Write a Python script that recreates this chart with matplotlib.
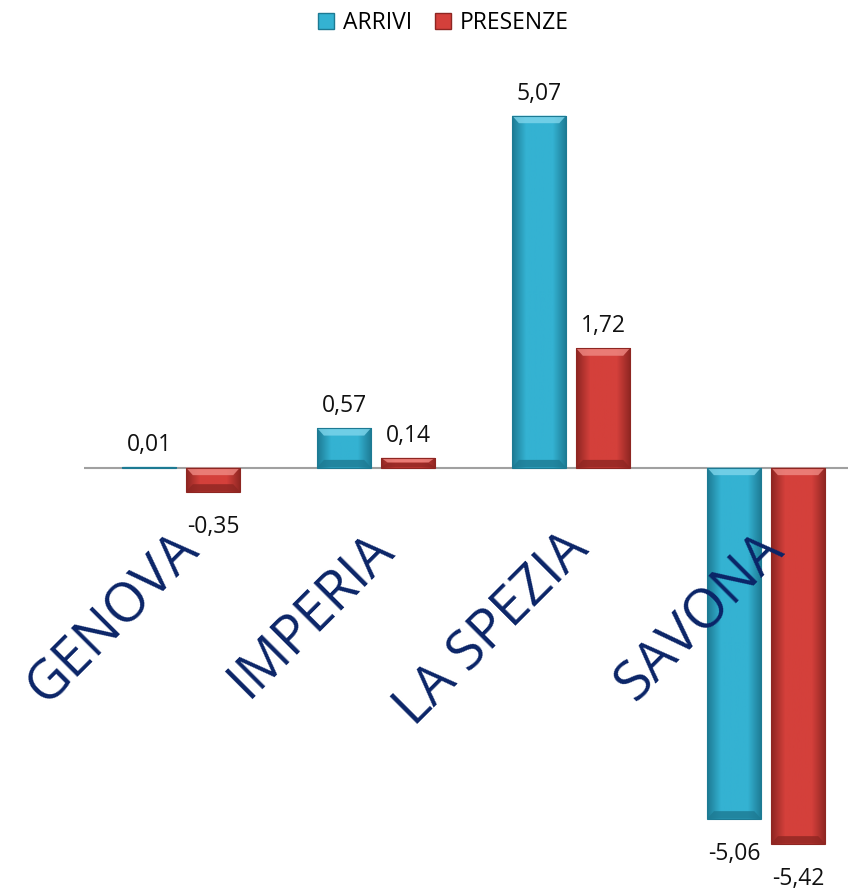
import matplotlib.pyplot as plt
from matplotlib.colors import LinearSegmentedColormap
from matplotlib.patches import Polygon, Patch
import numpy as np

province = ['GENOVA', 'IMPERIA', 'LA SPEZIA', 'SAVONA']
arrivi = [0.01, 0.57, 5.07, -5.06]
presenze = [-0.35, 0.14, 1.72, -5.42]
serie = ['ARRIVI', 'PRESENZE']

# colori: chiaro, medio, scuro
col_arrivi = ('#7fd6ec', '#34b2d2', '#1d7a93')
col_presenze = ('#f08a84', '#d4403b', '#8e2622')

plt.rcParams['font.family'] = ['Open Sans', 'DejaVu Sans']

fig = plt.figure(figsize=(8.48, 8.90), dpi=100)
ax = fig.add_axes([0.0985, 0.0067, 0.9015, 0.936])
ax.set_xlim(-0.5, 3.42)
ax.set_ylim(-6, 6)
ax.axis('off')

x = np.arange(len(province))
larg = 0.277
off = 0.164

ax.axhline(0, color='#a0a0a0', lw=1.5, zorder=1)


def bevel(ax, rects, colori):
    chiaro, medio, scuro = colori
    cmap = LinearSegmentedColormap.from_list('b', [scuro, medio, medio, medio, scuro])
    grad = np.linspace(0, 1, 64).reshape(1, -1)
    for r in rects:
        x0, y0 = r.get_x(), r.get_y()
        w, h = r.get_width(), r.get_height()
        y1 = y0 + h
        lo, hi = min(y0, y1), max(y0, y1)
        im = ax.imshow(grad, cmap=cmap, aspect='auto', extent=(x0, x0 + w, lo, hi), zorder=2)
        im.set_clip_path(r)
        bx = 0.035
        by = min(0.11, (hi - lo) / 2)
        top = Polygon([(x0, hi), (x0 + w, hi), (x0 + w - bx, hi - by), (x0 + bx, hi - by)],
                      closed=True, fc=chiaro, ec='none', alpha=0.8, zorder=3)
        bot = Polygon([(x0, lo), (x0 + w, lo), (x0 + w - bx, lo + by), (x0 + bx, lo + by)],
                      closed=True, fc=scuro, ec='none', alpha=0.8, zorder=3)
        ax.add_patch(top)
        ax.add_patch(bot)
        r.set_edgecolor(scuro)
        r.set_linewidth(0.8)
        r.set_zorder(4)
        r.set_facecolor('none')


b1 = ax.bar(x - off, arrivi, larg, color=col_arrivi[1])
b2 = ax.bar(x + off, presenze, larg, color=col_presenze[1])
bevel(ax, b1, col_arrivi)
bevel(ax, b2, col_presenze)

for rects, vals in [(b1, arrivi), (b2, presenze)]:
    for r, v in zip(rects, vals):
        cx = r.get_x() + r.get_width() / 2
        testo = '{:.2f}'.format(v).replace('.', ',')
        if v >= 0:
            ax.annotate(testo, (cx, v), xytext=(0, 7), textcoords='offset points',
                        ha='center', va='bottom', fontsize=16.5, color='#111111')
        else:
            ax.annotate(testo, (cx, v), xytext=(0, -17), textcoords='offset points',
                        ha='center', va='top', fontsize=16.5, color='#111111')

for i, nome in enumerate(province):
    ax.text(i - 0.05, -0.78, nome, rotation=45, rotation_mode='anchor',
            ha='right', va='top', fontsize=39, color='#0a2467', clip_on=False, zorder=5)

maniglie = [Patch(facecolor=col_arrivi[1], edgecolor=col_arrivi[2]),
            Patch(facecolor=col_presenze[1], edgecolor=col_presenze[2])]
fig.legend(maniglie, serie, loc='center', bbox_to_anchor=(0.523, 0.974), ncol=2,
           frameon=False, fontsize=16.5, handlelength=0.7, handleheight=0.7,
           handletextpad=0.4, columnspacing=1.0)

fig.savefig('out.png', dpi=100)
